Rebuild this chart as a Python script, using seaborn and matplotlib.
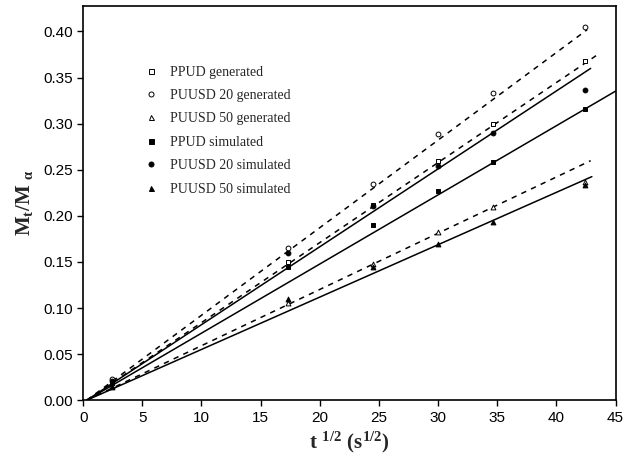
import numpy as np
import pandas as pd
import matplotlib
matplotlib.use("Agg")
import matplotlib.pyplot as plt
from matplotlib.lines import Line2D
import seaborn as sns

# square root of sampling time (s^1/2)
sqrt_t = [2.45, 17.32, 24.49, 30.0, 34.64, 42.43]

# fractional uptake Mt/Ma
ppud_gen = [0.021, 0.150, 0.212, 0.260, 0.300, 0.368]
puusd20_gen = [0.023, 0.165, 0.235, 0.289, 0.333, 0.405]
puusd50_gen = [0.015, 0.105, 0.148, 0.182, 0.210, 0.237]
ppud_sim = [0.019, 0.145, 0.190, 0.227, 0.258, 0.316]
puusd20_sim = [0.021, 0.160, 0.211, 0.254, 0.290, 0.336]
puusd50_sim = [0.014, 0.110, 0.145, 0.170, 0.193, 0.233]

series_names = ["PPUD generated", "PUUSD 20 generated", "PUUSD 50 generated",
                "PPUD simulated", "PUUSD 20 simulated", "PUUSD 50 simulated"]
series_values = [ppud_gen, puusd20_gen, puusd50_gen, ppud_sim, puusd20_sim, puusd50_sim]

# initial-slope fits through the origin: slope and last abscissa of each line
fit_slopes = [0.00868, 0.0095, 0.0061, 0.0075, 0.00845, 0.00568]
fit_x_end = [43.5, 42.6, 42.9, 45.0, 42.9, 43.0]

markers = ["s", "o", "^", "s", "o", "^"]
filled = [False, False, False, True, True, True]

rows = []
for name, vals in zip(series_names, series_values):
    for x, y in zip(sqrt_t, vals):
        rows.append({"sqrt_t": x, "uptake": y, "series": name})
points = pd.DataFrame(rows)

fit_rows = []
for name, k, xe in zip(series_names, fit_slopes, fit_x_end):
    for x in (0.3, xe):
        fit_rows.append({"sqrt_t": x, "uptake": k * (x - 0.3), "series": name})
fits = pd.DataFrame(fit_rows)

sns.set_style("ticks")
plt.rcParams["font.family"] = ["Liberation Sans", "DejaVu Sans"]
plt.rcParams["mathtext.fontset"] = "custom"
plt.rcParams["mathtext.rm"] = "Liberation Serif"
plt.rcParams["mathtext.it"] = "Liberation Serif"
plt.rcParams["mathtext.bf"] = "Liberation Serif:bold"

fig = plt.figure(figsize=(6.3, 4.72), dpi=100)
ax = fig.add_axes([0.132, 0.152, 0.845, 0.836])

for name, k, xe, is_filled in zip(series_names, fit_slopes, fit_x_end, filled):
    sub = fits[fits["series"] == name]
    sns.lineplot(data=sub, x="sqrt_t", y="uptake", ax=ax, color="black",
                 linewidth=1.1, linestyle="-" if is_filled else (0, (3.5, 3.5)),
                 legend=False, sort=False)

for name, m, is_filled in zip(series_names, markers, filled):
    sub = points[points["series"] == name]
    sns.scatterplot(data=sub, x="sqrt_t", y="uptake", ax=ax, marker=m,
                    s=12, facecolor="black" if is_filled else "white",
                    edgecolor="black", linewidth=0.7, legend=False, zorder=3)

ax.set_xlim(0, 45)
ax.set_ylim(0, 0.428)
ax.set_xticks(np.arange(0, 46, 5))
ax.set_yticks(np.arange(0, 0.41, 0.05))
ax.set_yticklabels([f"{v:.2f}" for v in np.arange(0, 0.41, 0.05)])
ax.tick_params(direction="out", length=4, width=1, labelsize=11, colors="black")
for sp in ax.spines.values():
    sp.set_visible(True)
    sp.set_color("black")
    sp.set_linewidth(1.2)

ax.set_xlabel(r"$\mathbf{t}$ $^{\mathbf{1/2}}$ $\mathbf{(s^{1/2})}$", fontsize=15, labelpad=4)
ax.set_ylabel(r"$\mathbf{M_t/M}$ $_{\mathbf{\alpha}}$", fontsize=15, labelpad=6)

handles = [Line2D([], [], linestyle="none", marker=m, markersize=3.6,
                  markerfacecolor="black" if f else "white", markeredgecolor="black",
                  markeredgewidth=0.7)
           for m, f in zip(markers, filled)]
ax.legend(handles, series_names, loc="upper left", bbox_to_anchor=(0.09, 0.88),
          frameon=False, prop={"family": "Liberation Serif", "size": 10},
          handletextpad=0.9, labelspacing=0.75, handlelength=1.0)

fig.savefig("out.png", dpi=100)
